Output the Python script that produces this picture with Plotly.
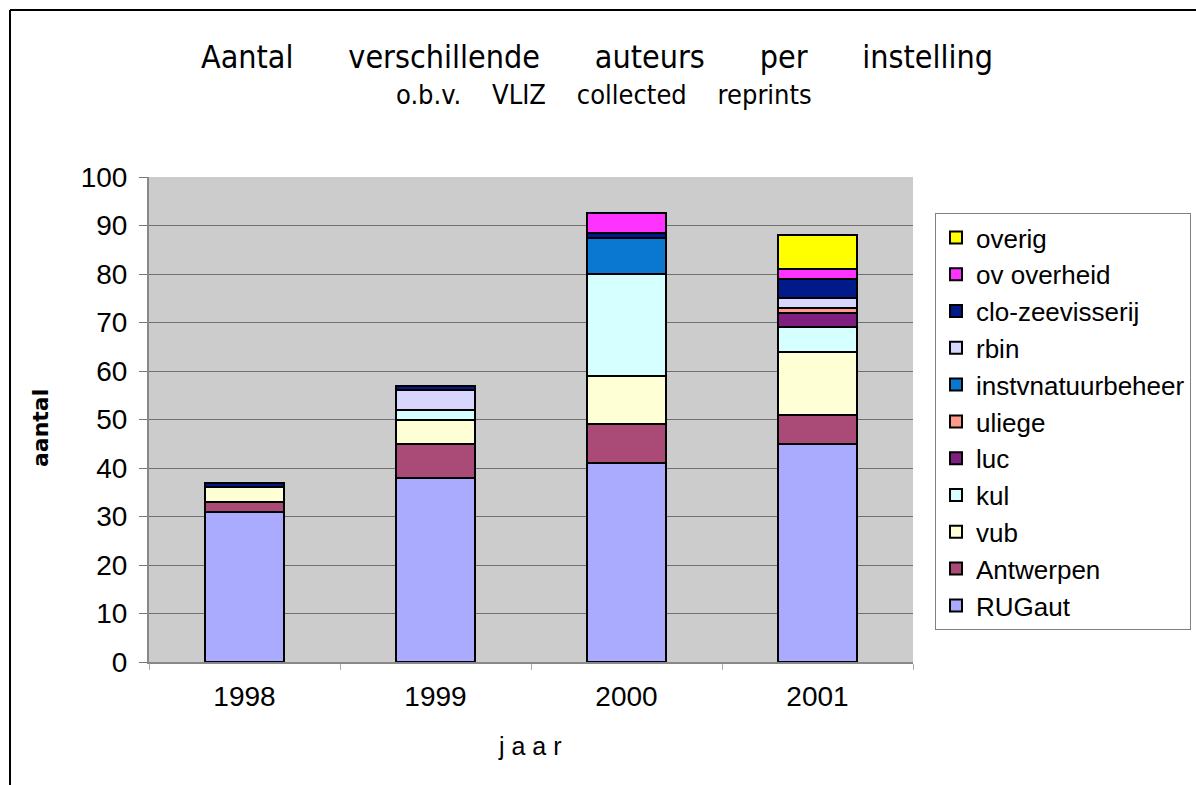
import plotly.graph_objects as go

years = ["1998", "1999", "2000", "2001"]

series_names = ["RUGaut", "Antwerpen", "vub", "kul", "luc", "uliege",
                "instvnatuurbeheer", "rbin", "clo-zeevisserij", "ov overheid", "overig"]

RUGaut = [31, 38, 41, 45]
Antwerpen = [2, 7, 8, 6]
vub = [3, 5, 10, 13]
kul = [0, 2, 21, 5]
luc = [0, 0, 0, 3]
uliege = [0, 0, 0, 1]
instvnatuurbeheer = [0, 0, 7.5, 0]
rbin = [0, 4, 0, 2]
clo_zeevisserij = [1, 1, 1, 4]
ov_overheid = [0, 0, 4, 2]
overig = [0, 0, 0, 7]

values = [RUGaut, Antwerpen, vub, kul, luc, uliege, instvnatuurbeheer,
          rbin, clo_zeevisserij, ov_overheid, overig]

colors = ["#AAAAFF", "#AA4A77", "#FFFFD6", "#D6FFFF", "#7F1F7F", "#FF9A8A",
          "#0A78D0", "#D6D6FF", "#001A8A", "#FF33FF", "#FFFF00"]

W, H = 1196, 785
L, R, T, B = 149, 283, 177, 123

fig = go.Figure()
for name, vals, col in zip(series_names, values, colors):
    fig.add_trace(go.Bar(
        x=years, y=vals, name=name, legendgroup=name,
        marker=dict(color=col, line=dict(color="black", width=2)),
    ))

tick_font = "Liberation Sans"
nb6 = "\u00a0" * 6
nb4 = "\u00a0" * 4

W_plot = W - L - R
H_plot = H - T - B


def px_to_paper(px, py):
    return (px - L) / W_plot, (H - B - py) / H_plot


lx, ly = px_to_paper(935, 213)

fig.update_layout(
    barmode="stack",
    bargap=0.59,
    width=W, height=H,
    margin=dict(l=L, r=R, t=T, b=B, autoexpand=False),
    paper_bgcolor="white",
    plot_bgcolor="#CCCCCC",
    font=dict(family=tick_font, size=20, color="black"),
    showlegend=True,
    legend=dict(
        x=lx, y=ly, xanchor="left", yanchor="top",
        bgcolor="white", bordercolor="#808080", borderwidth=1,
        font=dict(size=26, family=tick_font),
        traceorder="reversed", tracegroupgap=2,
    ),
    xaxis=dict(
        showgrid=False, ticks="outside", tickson="boundaries", ticklen=6,
        tickcolor="#AAAAAA", linecolor="#888888", showline=True, linewidth=2,
        tickfont=dict(size=28, family=tick_font, color="black"),
        ticklabelstandoff=8,
    ),
    yaxis=dict(
        range=[0, 100], tick0=0, dtick=10, showgrid=True, gridcolor="#707070", gridwidth=1,
        ticks="outside", ticklen=8, tickcolor="#777777", showline=True, linecolor="#888888",
        linewidth=2, tickfont=dict(size=28, family=tick_font, color="black"),
        zeroline=False, ticklabelstandoff=6,
    ),
)

tx, ty = px_to_paper(597, 57)
sx, sy = px_to_paper(604, 95)
fig.add_annotation(text="Aantal" + nb6 + "verschillende" + nb6 + "auteurs" + nb6 + "per" + nb6 + "instelling",
                   x=tx, y=ty, xref="paper", yref="paper", showarrow=False,
                   font=dict(size=32, family="DejaVu Sans Condensed", color="black"),
                   xanchor="center", yanchor="middle")
fig.add_annotation(text="o.b.v." + nb4 + "VLIZ" + nb4 + "collected" + nb4 + "reprints",
                   x=sx, y=sy, xref="paper", yref="paper", showarrow=False,
                   font=dict(size=27, family="DejaVu Sans Condensed", color="black"),
                   xanchor="center", yanchor="middle")

ax, ay = px_to_paper(40, 428)
fig.add_annotation(text="<b>aantal</b>", x=ax, y=ay, xref="paper", yref="paper",
                   showarrow=False, textangle=-90,
                   font=dict(size=22, family="DejaVu Sans", color="black"),
                   xanchor="center", yanchor="middle")
jx, jy = px_to_paper(530, 746)
fig.add_annotation(text="j a a r", x=jx, y=jy, xref="paper", yref="paper",
                   showarrow=False,
                   font=dict(size=25, family=tick_font, color="black"),
                   xanchor="center", yanchor="middle")

# outer chart frame (top and left edges)
x0, y0 = px_to_paper(10, 10)
x1, y1 = px_to_paper(W, 10)
x2, y2 = px_to_paper(10, H)
fig.add_shape(type="line", xref="paper", yref="paper", x0=x0, y0=y0, x1=x1, y1=y1,
              line=dict(color="black", width=2))
fig.add_shape(type="line", xref="paper", yref="paper", x0=x0, y0=y0, x1=x2, y1=y2,
              line=dict(color="black", width=2))

fig.write_html("out.html", config={"displayModeBar": False},
               post_script="document.body.style.margin='0px';")
